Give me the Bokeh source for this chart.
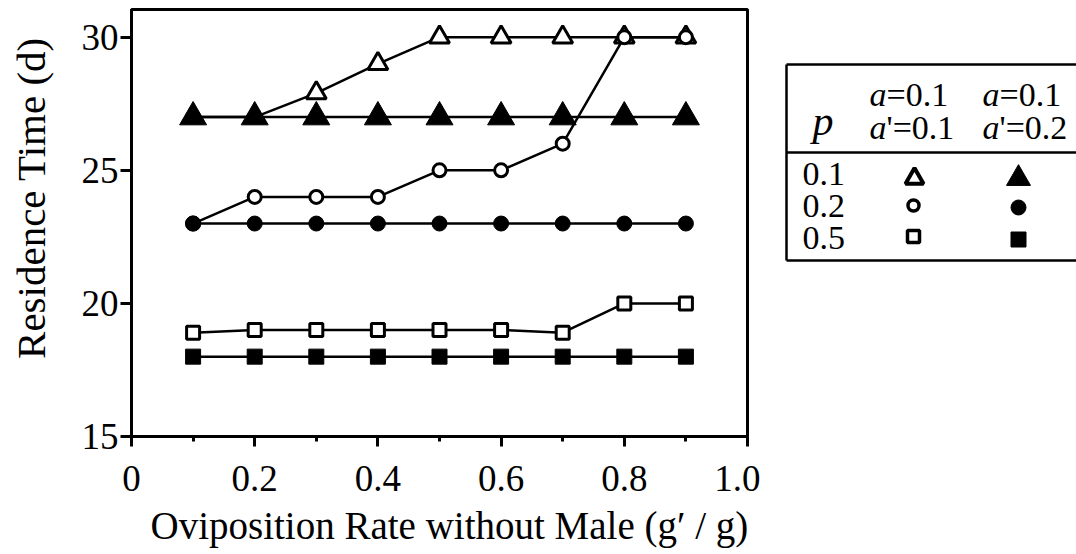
import math
from bokeh.plotting import figure
from bokeh.layouts import row
from bokeh.models import Range1d, FixedTicker, Title, ColumnDataSource
from bokeh.core.properties import value
from bokeh.embed import file_html
from bokeh.resources import INLINE

# Oviposition rate without male (g'/g)
g_ratio = [0.1, 0.2, 0.3, 0.4, 0.5, 0.6, 0.7, 0.8, 0.9]

# Residence time (d) for p = 0.1, 0.2, 0.5 with a'=0.1 (open) and a'=0.2 (filled)
p01_a01 = [27.0, 27.0, 27.9, 29.0, 30.0, 30.0, 30.0, 30.0, 30.0]
p01_a02 = [27.0, 27.0, 27.0, 27.0, 27.0, 27.0, 27.0, 27.0, 27.0]
p02_a01 = [23.0, 24.0, 24.0, 24.0, 25.0, 25.0, 26.0, 30.0, 30.0]
p02_a02 = [23.0, 23.0, 23.0, 23.0, 23.0, 23.0, 23.0, 23.0, 23.0]
p05_a01 = [18.9, 19.0, 19.0, 19.0, 19.0, 19.0, 18.9, 20.0, 20.0]
p05_a02 = [18.0, 18.0, 18.0, 18.0, 18.0, 18.0, 18.0, 18.0, 18.0]

x_ticks = [0.0, 0.2, 0.4, 0.6, 0.8, 1.0]
x_tick_labels = ["0", "0.2", "0.4", "0.6", "0.8", "1.0"]
x_minor_ticks = [0.1, 0.3, 0.5, 0.7, 0.9]
y_ticks = [15, 20, 25, 30]

p_labels = ["0.1", "0.2", "0.5"]
a_header = ["a", "a"]
a_header_rest = ["=0.1", "=0.1"]
a_prime_rest = ["'=0.1", "'=0.2"]

FONT = "Liberation Serif"
INK = "black"


def bare_panel(width, x0):
    # a panel without axes whose frame shares the chart frame's rows (y 9..436),
    # so its ranges are plain pixel positions
    f = figure(width=width, height=554, x_range=Range1d(x0, x0 + width), y_range=Range1d(436, 9),
               output_backend="svg", toolbar_location=None,
               x_axis_location=None, y_axis_location=None, min_border=0)
    f.xgrid.visible = False
    f.ygrid.visible = False
    f.outline_line_color = None
    f.background_fill_color = "white"
    f.border_fill_color = "white"
    return f


# y-axis title panel
yl = bare_panel(60, 0)
yl.text(x=[30], y=[197.5], text=["Residence Time (d)"], angle=math.pi / 2,
        text_font=value(FONT), text_font_size="41px", text_align="center",
        text_baseline="middle", text_color=INK)

p = figure(width=700, height=554, x_range=Range1d(0, 1.0), y_range=Range1d(15, 31.04),
           output_backend="svg", toolbar_location=None,
           min_border_left=71, min_border_right=13, min_border_top=9, min_border_bottom=118)
p.background_fill_color = "white"
p.border_fill_color = "white"
p.xgrid.visible = False
p.ygrid.visible = False
p.outline_line_color = INK
p.outline_line_width = 3

p.xaxis.ticker = FixedTicker(ticks=x_ticks, minor_ticks=x_minor_ticks)
p.xaxis.major_label_overrides = {t: s for t, s in zip(x_ticks, x_tick_labels)}
p.yaxis.ticker = FixedTicker(ticks=y_ticks, minor_ticks=[])
for ax in (p.xaxis[0], p.yaxis[0]):
    ax.axis_line_width = 3
    ax.axis_line_color = INK
    ax.major_tick_in = 0
    ax.minor_tick_in = 0
    ax.major_tick_line_width = 3
    ax.minor_tick_line_width = 3
    ax.major_tick_line_color = INK
    ax.minor_tick_line_color = INK
    ax.major_label_text_font = FONT
    ax.major_label_text_font_size = "37px"
    ax.major_label_text_color = INK
p.xaxis.major_tick_out = 10
p.xaxis.minor_tick_out = 5
p.xaxis.major_label_standoff = 19
p.yaxis.major_tick_out = 11
p.yaxis.major_label_standoff = 2

xt = Title(text="Oviposition Rate without Male (g\u2032 / g)", align="left", offset=19,
           text_font=FONT, text_font_size="39px", text_font_style="normal", text_color=INK,
           standoff=16)
p.add_layout(xt, "below")

series = [
    (p01_a01, "triangle", "white", 20, 3),
    (p02_a01, "circle", "white", 13, 3),
    (p05_a01, "square", "white", 13, 3),
    (p01_a02, "triangle", INK, 27, 1),
    (p02_a02, "circle", INK, 15, 1),
    (p05_a02, "square", INK, 15, 1),
]
for ys, mk, fill, size, lw in series:
    src = ColumnDataSource(data=dict(x=g_ratio, y=ys))
    p.line("x", "y", source=src, line_color=INK, line_width=2.5)
    p.scatter("x", "y", source=src, marker=mk, size=size, fill_color=fill,
              line_color=INK, line_width=lw)

# key table
lg = bare_panel(316, 760)

box_l, box_t, box_b, box_r, box_div = 786, 64, 260, 1082, 152
lg.multi_line(xs=[[box_l, box_r], [box_l, box_l], [box_l, box_r], [box_l, box_r]],
              ys=[[box_t, box_t], [box_t, box_b], [box_b, box_b], [box_div, box_div]],
              line_color=INK, line_width=2.5)

col_x = [869, 982]
hdr1_y, hdr2_y = 94, 127
hdr_style = dict(text_font=value(FONT), text_font_size="34px", text_baseline="alphabetic",
                 text_align="left", text_color=INK)
lg.text(x=col_x, y=[hdr1_y] * 2, text=a_header, text_font_style="italic", **hdr_style)
lg.text(x=[c + 17 for c in col_x], y=[hdr1_y] * 2, text=a_header_rest, **hdr_style)
lg.text(x=col_x, y=[hdr2_y] * 2, text=a_header, text_font_style="italic", **hdr_style)
lg.text(x=[c + 17 for c in col_x], y=[hdr2_y] * 2, text=a_prime_rest, **hdr_style)
lg.text(x=[812], y=[120], text=["p"], text_font=value(FONT), text_font_style="italic",
        text_font_size="42px", text_baseline="alphabetic", text_align="left", text_color=INK)

row_base = [173, 205, 237]
lg.text(x=[802] * 3, y=row_base, text=p_labels, text_font=value(FONT), text_font_size="34px",
        text_baseline="alphabetic", text_align="left", text_color=INK)

key_src = ColumnDataSource(data=dict(
    x=[914, 913, 913, 1018, 1018, 1018],
    y=[178, 205, 236, 178, 207, 239],
    marker=["triangle", "circle", "square", "triangle", "circle", "square"],
    fill=["white", "white", "white", INK, INK, INK],
    size=[18, 11, 12, 24, 15, 15],
    lw=[4, 3.5, 3.5, 1, 1, 1],
))
lg.scatter("x", "y", source=key_src, marker="marker", size="size", fill_color="fill",
           line_color=INK, line_width="lw")

layout = row(yl, p, lg, spacing=0)
open("out.html", "w").write(file_html(layout, INLINE))
